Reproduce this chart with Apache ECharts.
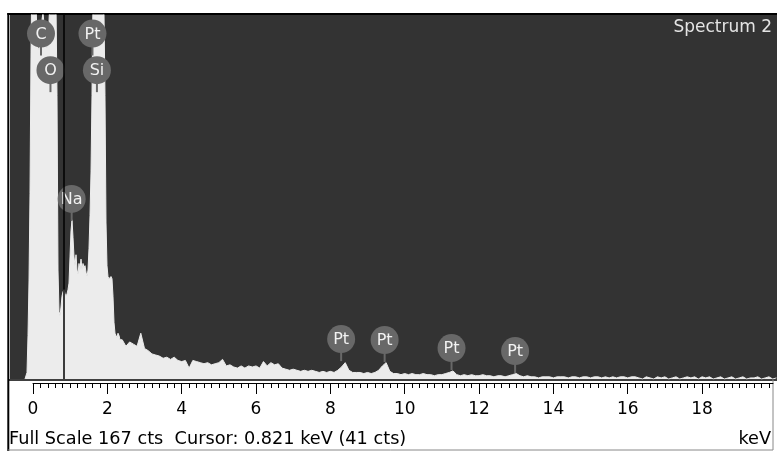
<!DOCTYPE html>
<html><head><meta charset="utf-8">
<script src="https://cdn.jsdelivr.net/npm/echarts@6/dist/echarts.min.js"></script>
<style>html,body{margin:0;padding:0;background:#fff}#c{width:777px;height:451px}</style>
</head><body><div id="c"></div>
<script>
// ---------- data ----------
const spectrumName = 'Spectrum 2';
const fullScaleCts = 167;
const cursorKeV = 0.821;
const cursorCts = 41;

// low-energy part: one channel every lowStepKeV starting at lowStartKeV
const lowStartKeV = -0.215;
const lowStepKeV = 0.0269;
const lowCounts = [
  0, 0, 3, 20, 45, 85, 150, 190, 210, 205,
  190, 172, 158, 152, 151, 154, 158, 165, 168, 163,
  157, 153, 152, 156, 164, 176, 190, 200, 202, 195,
  184, 172, 130, 50, 31, 29, 33, 38, 40, 41,
  39, 38, 39, 41, 44, 56, 68, 73, 65, 56,
  52, 57, 50, 48, 53, 50, 55, 50, 53, 51,
  52, 49, 47, 50, 60, 75, 95, 130, 175, 195,
  215, 235, 250, 255, 250, 235, 215, 195, 178, 168,
  130, 72, 52, 47, 46, 46, 47, 46, 38, 26,
  21, 20, 19, 21, 20, 18
];
// high-energy part: one value every 0.1 keV from 2.4 keV
const highStartKeV = 2.4;
const highStepKeV = 0.1;
const highCounts = [
  18, 15, 17, 16, 15, 21, 14, 13, 11.5, 11,
  10.5, 9.5, 10, 9, 10, 8.5, 8, 8.5, 5, 8.5,
  8, 7.5, 7, 7.5, 6.5, 7, 7.5, 9, 6, 6.5,
  5.5, 5, 6, 5, 6, 5.5, 6, 5, 8, 6,
  7.5, 6.5, 7, 5, 4.5, 4, 4.5, 4, 3.5, 4,
  3.5, 4, 3.5, 3, 3.5, 3, 3.5, 3, 4, 5.5,
  7.5, 4, 3, 3, 3, 2.5, 3, 2.5, 3, 4,
  6, 7.5, 3.5, 2.5, 2.5, 2, 2.5, 2, 2.5, 2,
  2, 2.5, 2, 2, 1.5, 2, 2, 2.5, 3, 3.7,
  2, 1.5, 2, 1.5, 2, 1.5, 1.5, 2, 1.5, 1.5,
  1, 1.5, 1.5, 1, 1.5, 2, 2.5, 1.5, 1, 1.5,
  1, 1, 0.5, 1, 1, 1, 0.5, 1, 1, 1,
  0.5, 1, 1, 0.5, 1, 1, 0.5, 1, 1, 0.5,
  1, 0.5, 1, 0.5, 1, 1, 0.5, 1, 1, 0.5,
  0, 1, 0.5, 0, 1, 0.5, 1, 0, 0.5, 1,
  0, 0.5, 1, 0.5, 1, 0, 1, 0.5, 1, 0,
  0.5, 1, 0, 0.5, 1, 0, 0.5, 1, 0, 0.5,
  0.5, 1, 0, 0.5, 1, 0, 0.5
];

// element markers
const elementNames = ['C', 'Pt', 'O', 'Si', 'Na', 'Pt', 'Pt', 'Pt', 'Pt'];
const elementKeV   = [0.215, 1.60, 0.47, 1.72, 1.04, 8.29, 9.46, 11.26, 12.97];
const elementCts   = [158.5, 158.5, 141.7, 141.7, 82.6, 18.3, 17.9, 14.2, 12.8];

// axis ticks
const majorTickKeV = [0, 2, 4, 6, 8, 10, 12, 14, 16, 18];
const tickLabels   = ['0', '2', '4', '6', '8', '10', '12', '14', '16', '18'];
const minorTickStepKeV = 0.2;
const axisUnit = 'keV';

// ---------- layout ----------
const W = 777, H = 451;
const PX0 = 33, PX_PER_KEV = 37.17;
const plotLeft = 10, plotTop = 15, plotBottomY = 379, axisY = 383, axisRight = 773;
const FONT = '"DejaVu Sans", Verdana, sans-serif';

const xMin = (plotLeft - PX0) / PX_PER_KEV;
const xMax = (W - PX0) / PX_PER_KEV;
const axisMax = (axisRight - PX0) / PX_PER_KEV;

const spectrum = [];
lowCounts.forEach((c, i) => spectrum.push([lowStartKeV + i * lowStepKeV, c]));
highCounts.forEach((c, i) => spectrum.push([highStartKeV + i * highStepKeV, c]));

const minorTickKeV = [];
for (let i = 0; i * minorTickStepKeV < axisMax; i++) minorTickKeV.push(+(i * minorTickStepKeV).toFixed(2));

const markers = elementKeV.map((k, i) => [k, elementCts[i], i]);

const chart = echarts.init(document.getElementById('c'));
chart.setOption({
  animation: false,
  grid: [
    { left: plotLeft, top: plotTop, right: 0, bottom: H - plotBottomY, show: true, backgroundColor: '#333333', borderWidth: 0 },
    { left: PX0, right: W - axisRight, bottom: H - axisY, height: 1, show: false }
  ],
  xAxis: [
    { gridIndex: 0, type: 'value', min: xMin, max: xMax, show: false },
    { gridIndex: 1, type: 'value', min: 0, max: axisMax, position: 'bottom',
      axisLine: { show: true, lineStyle: { color: '#000', width: 1 } },
      axisTick: { show: true, customValues: majorTickKeV, length: 11, lineStyle: { color: '#000', width: 1 } },
      axisLabel: { show: true, customValues: majorTickKeV, margin: 18, color: '#000', fontFamily: FONT, fontSize: 17,
        formatter: v => tickLabels[majorTickKeV.indexOf(Math.round(v))] },
      splitLine: { show: false } },
    { gridIndex: 1, type: 'value', min: 0, max: axisMax, position: 'bottom',
      axisLine: { show: false },
      axisTick: { show: true, customValues: minorTickKeV, length: 5, lineStyle: { color: '#000', width: 1 } },
      axisLabel: { show: false }, splitLine: { show: false } }
  ],
  yAxis: [
    { gridIndex: 0, type: 'value', min: 0, max: fullScaleCts, show: false },
    { gridIndex: 1, type: 'value', min: 0, max: 1, show: false }
  ],
  series: [
    { type: 'line', xAxisIndex: 0, yAxisIndex: 0, data: spectrum, showSymbol: false, clip: true, z: 2,
      lineStyle: { color: '#ececec', width: 1 }, areaStyle: { color: '#ececec', opacity: 1 },
      markLine: { symbol: 'none', silent: true, z: 10, label: { show: false },
        lineStyle: { color: '#000', width: 1.5, type: 'solid' }, data: [{ xAxis: cursorKeV }] } },
    { type: 'custom', xAxisIndex: 0, yAxisIndex: 0, data: markers, z: 3, clip: false,
      renderItem: (params, api) => {
        const p = api.coord([api.value(0), api.value(1)]);
        const name = elementNames[api.value(2)];
        return { type: 'group', children: [
          { type: 'line', shape: { x1: p[0], y1: p[1] + 10, x2: p[0], y2: p[1] + 22 }, style: { stroke: '#686868', lineWidth: 2 } },
          { type: 'circle', shape: { cx: p[0], cy: p[1], r: 14 }, style: { fill: '#686868' } },
          { type: 'text', style: { text: name, x: p[0], y: p[1] + 1, align: 'center', verticalAlign: 'middle',
              textAlign: 'center', textVerticalAlign: 'middle', fill: '#f2f2f2', font: '16px ' + FONT } }
        ] };
      } }
  ],
  graphic: [
    { type: 'line', shape: { x1: 8.3, y1: 13, x2: 8.3, y2: H }, style: { stroke: '#000', lineWidth: 2 } },
    { type: 'line', shape: { x1: 7.3, y1: 14, x2: W, y2: 14 }, style: { stroke: '#000', lineWidth: 2 } },
    { type: 'line', shape: { x1: 8, y1: 380, x2: W, y2: 380 }, style: { stroke: '#000', lineWidth: 1.5 } },
    { type: 'line', shape: { x1: 773, y1: 380, x2: 773, y2: 450 }, style: { stroke: '#888', lineWidth: 1 } },
    { type: 'line', shape: { x1: 8, y1: 450, x2: 773, y2: 450 }, style: { stroke: '#888', lineWidth: 1 } },
    { type: 'text', style: { text: spectrumName, x: 772, y: 19, align: 'right', verticalAlign: 'top',
        textAlign: 'right', textVerticalAlign: 'top', fill: '#e4e4e4', font: '17px ' + FONT } },
    { type: 'text', style: { text: 'Full Scale ' + fullScaleCts + ' cts  Cursor: ' + cursorKeV.toFixed(3) + ' ' + axisUnit + ' (' + cursorCts + ' cts)',
        x: 9, y: 430, align: 'left', verticalAlign: 'top', textAlign: 'left', textVerticalAlign: 'top', fill: '#000', font: '17.7px ' + FONT } },
    { type: 'text', style: { text: axisUnit, x: 771, y: 430, align: 'right', verticalAlign: 'top',
        textAlign: 'right', textVerticalAlign: 'top', fill: '#000', font: '17.7px ' + FONT } }
  ]
});
</script></body></html>
